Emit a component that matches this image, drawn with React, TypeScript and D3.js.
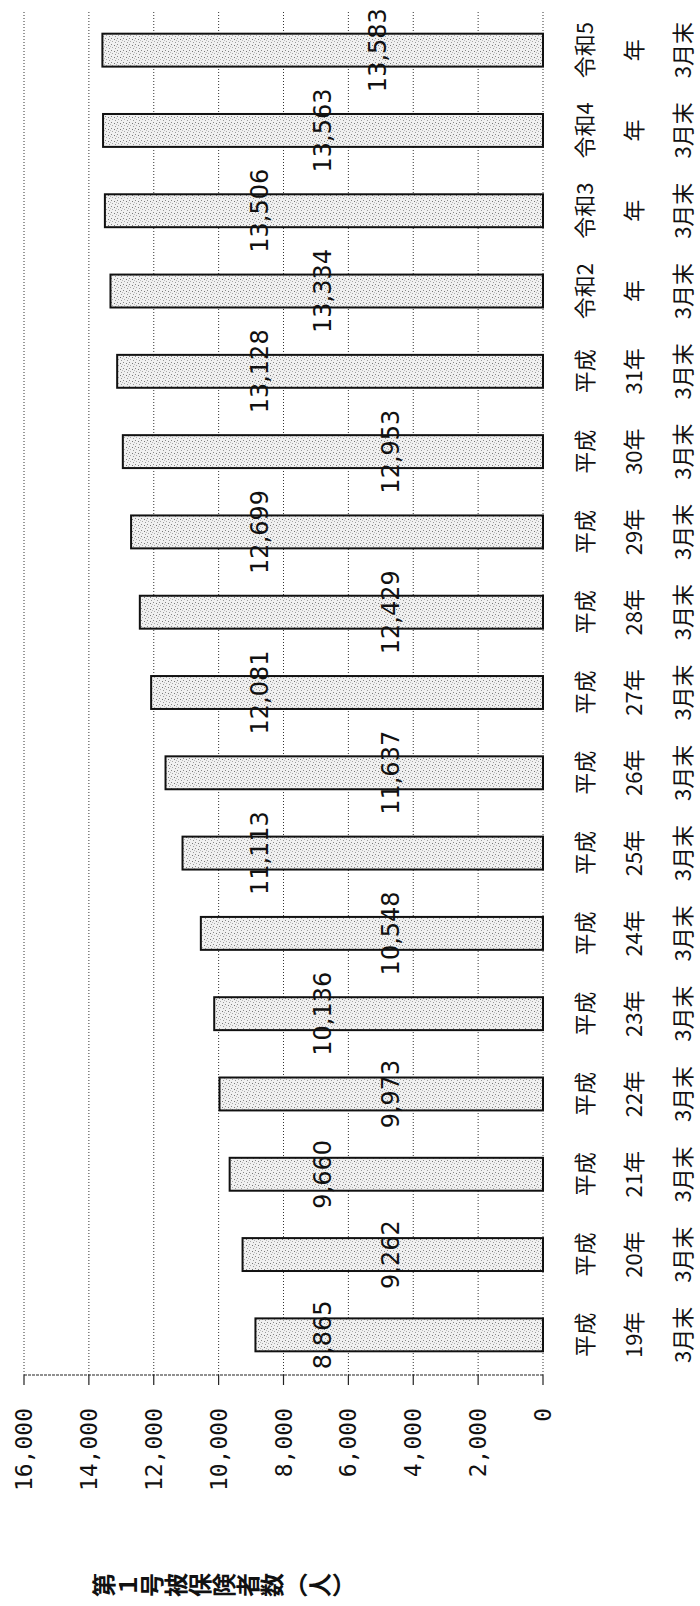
import * as d3 from 'd3';
import React from 'react';

// 第1号被保険者数 (各年3月末)
const eras = ['平成', '平成', '平成', '平成', '平成', '平成', '平成', '平成', '平成', '平成', '平成', '平成', '平成', '令和2', '令和3', '令和4', '令和5'];
const years = ['19年', '20年', '21年', '22年', '23年', '24年', '25年', '26年', '27年', '28年', '29年', '30年', '31年', '年', '年', '年', '年'];
const months = ['3月末', '3月末', '3月末', '3月末', '3月末', '3月末', '3月末', '3月末', '3月末', '3月末', '3月末', '3月末', '3月末', '3月末', '3月末', '3月末', '3月末'];
const values = [8865, 9262, 9660, 9973, 10136, 10548, 11113, 11637, 12081, 12429, 12699, 12953, 13128, 13334, 13506, 13563, 13583];
// where each data label sits, in value units
const labelAt = [6800, 4700, 6800, 4700, 6800, 4700, 8750, 4700, 8750, 4700, 8750, 4700, 8750, 6800, 8750, 6800, 5100];
const ticks = [0, 2000, 4000, 6000, 8000, 10000, 12000, 14000, 16000];
const title = '第１号被保険者数（人）';

const W = 700;
const H = 1606;

function App() {
  const keys = values.map((d, i) => String(i));

  // drawn as an upright column chart, then the whole group is turned -90deg
  const x = d3
    .scaleBand<string>()
    .domain(keys)
    .range([231, 1596])
    .paddingInner(0.59)
    .paddingOuter(0.295);

  const y = d3.scaleLinear().domain([0, 16000]).range([543, 24]);
  const fmt = d3.format(',');

  return (
    <svg width={W} height={H} style={{ position: 'absolute', left: 0, top: 0, background: '#fff' }}>
      <defs>
        <pattern id="stipple" width="6" height="6" patternUnits="userSpaceOnUse">
          <rect width="6" height="6" fill="#f0f0f0" />
          <rect x="0" y="0" width="1" height="1" fill="#777" />
          <rect x="3" y="1" width="1" height="1" fill="#999" />
          <rect x="1" y="3" width="1" height="1" fill="#888" />
          <rect x="4" y="4" width="1" height="1" fill="#aaa" />
          <rect x="5" y="2" width="1" height="1" fill="#bbb" />
        </pattern>
      </defs>
      <g transform={`translate(0,${H}) rotate(-90)`}>
        {/* grid lines */}
        {ticks.map((t) => (
          <line
            key={'g' + t}
            x1={231}
            x2={1596}
            y1={y(t)}
            y2={y(t)}
            stroke="#333"
            strokeWidth={1}
            strokeDasharray="1,2"
          />
        ))}

        {/* value axis */}
        <line x1={231} x2={231} y1={y(0)} y2={y(16000)} stroke="#222" strokeWidth={1.2} strokeDasharray="3,1" />
        {ticks.map((t) => (
          <g key={'t' + t}>
            <line x1={221} x2={231} y1={y(t)} y2={y(t)} stroke="#222" strokeWidth={1.2} />
            <text
              x={198}
              y={y(t)}
              dy="0.35em"
              textAnchor="end"
              fontFamily="'DejaVu Sans Mono', monospace"
              fontSize={23}
              fill="#111"
            >
              {fmt(t)}
            </text>
          </g>
        ))}

        {/* bars */}
        {values.map((v, i) => (
          <rect
            key={'b' + i}
            x={x(keys[i]) || 0}
            y={y(v)}
            width={x.bandwidth()}
            height={y(0) - y(v)}
            fill="url(#stipple)"
            stroke="#111"
            strokeWidth={2}
          />
        ))}

        {/* data labels */}
        {values.map((v, i) => (
          <text
            key={'l' + i}
            x={(x(keys[i]) || 0) + x.bandwidth() / 2}
            y={y(labelAt[i])}
            dy="0.35em"
            textAnchor="middle"
            fontFamily="'DejaVu Sans', sans-serif"
            fontSize={24}
            fill="#111"
          >
            {fmt(v)}
          </text>
        ))}

        {/* category labels */}
        {keys.map((k, i) => {
          const cx = (x(k) || 0) + x.bandwidth() / 2;
          return (
            <g key={'c' + k} fontFamily="'Noto Sans CJK JP', sans-serif" fontSize={22} fill="#111" textAnchor="middle">
              <text x={cx} y={585} dy="0.35em">{eras[i]}</text>
              <text x={cx} y={634} dy="0.35em">{years[i]}</text>
              <text x={cx} y={683} dy="0.35em">{months[i]}</text>
            </g>
          );
        })}

        {/* axis title, written vertically */}
        <text
          x={21}
          y={92}
          writingMode="vertical-rl"
          style={{ writingMode: 'vertical-rl' }}
          fontFamily="'Noto Sans CJK JP', sans-serif"
          fontWeight="bold"
          fontSize={24}
          fill="#111"
        >
          {title}
        </text>
      </g>
    </svg>
  );
}

export default App;
